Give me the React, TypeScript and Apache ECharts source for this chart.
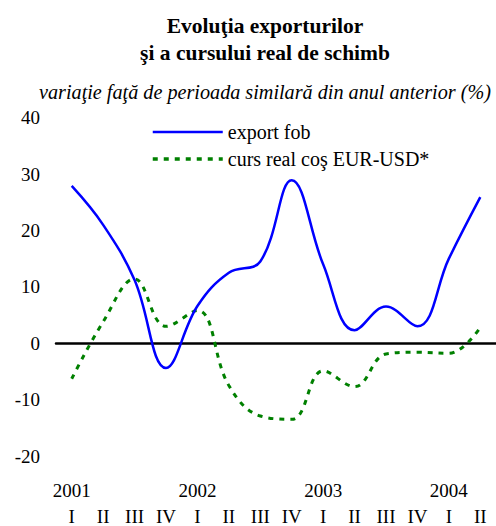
import React, { useEffect, useRef } from "react";
import * as echarts from "echarts";

const years = ["2001", "2002", "2003", "2004"];
const quarterLabels = ["I", "II", "III", "IV", "I", "II", "III", "IV", "I", "II", "III", "IV", "I", "II"];
const exportFob = [27.9, 21.0, 11.2, -4.4, 6.6, 12.5, 14.5, 28.9, 14.0, 2.3, 6.5, 3.0, 15.0, 25.9];
const cursReal = [-6.3, 3.8, 11.4, 3.0, 5.8, -7.5, -12.9, -13.5, -4.9, -7.7, -1.9, -1.6, -1.8, 2.8];
const yTicks = { min: -20, max: 40, interval: 10 };

const titleLines = ["Evoluţia exporturilor", "şi a cursului real de schimb"];
const subtitle = "variaţie faţă de perioada similară din anul anterior (%)";
const seriesNames = ["export fob", "curs real coş EUR-USD*"];

const FONT = "Liberation Serif";

export default function App() {
  const ref = useRef<HTMLDivElement>(null);
  useEffect(() => {
    if (!ref.current) return;
    const chart = echarts.init(ref.current, null, { renderer: "svg" });
    const categories = quarterLabels.map((q, i) => `${years[Math.floor(i / 4)]} ${q}`);
    const txt = (x: number, y: number, text: string, size: number, weight: string, style: string) => ({
      type: "text",
      x,
      y,
      style: {
        text,
        fontFamily: FONT,
        fontSize: size,
        fontWeight: weight,
        fontStyle: style,
        fill: "#000",
        align: "center",
        verticalAlign: "middle",
      },
    });
    chart.setOption({
      animation: false,
      backgroundColor: "#ffffff",
      textStyle: { fontFamily: FONT },
      graphic: [
        txt(265, 26, titleLines[0], 21.5, "bold", "normal"),
        txt(265, 53, titleLines[1], 21.5, "bold", "normal"),
        txt(265, 92, subtitle, 20.2, "normal", "italic"),
      ],
      legend: {
        orient: "vertical",
        left: 146,
        top: 117,
        itemWidth: 70,
        itemHeight: 14,
        itemGap: 7,
        itemStyle: { opacity: 0 },
        textStyle: { fontFamily: FONT, fontSize: 20, color: "#000", lineHeight: 20 },
        data: [
          { name: seriesNames[0], lineStyle: { width: 2.5 } },
          { name: seriesNames[1], lineStyle: { width: 3.5 } },
        ],
      },
      grid: { left: 56, right: -5, top: 117.7, bottom: 68.4, containLabel: false },
      xAxis: [
        {
          type: "category",
          data: categories,
          boundaryGap: true,
          axisLine: { onZero: true, lineStyle: { color: "#000", width: 2.5 } },
          axisTick: { show: false },
          axisLabel: { show: false },
          splitLine: { show: false },
        },
        {
          type: "category",
          data: categories,
          position: "bottom",
          boundaryGap: true,
          axisLine: { show: false, onZero: false },
          axisTick: { show: false },
          axisLabel: {
            interval: 0,
            margin: 50,
            fontFamily: FONT,
            fontSize: 19,
            lineHeight: 20,
            color: "#000",
            formatter: (_v: string, i: number) => quarterLabels[i],
          },
        },
        {
          type: "category",
          data: categories,
          position: "bottom",
          boundaryGap: true,
          axisLine: { show: false, onZero: false },
          axisTick: { show: false },
          axisLabel: {
            interval: 0,
            margin: 24,
            fontFamily: FONT,
            fontSize: 19,
            lineHeight: 20,
            color: "#000",
            formatter: (_v: string, i: number) => (i % 4 === 0 ? years[i / 4] : ""),
          },
        },
      ],
      yAxis: {
        type: "value",
        min: yTicks.min,
        max: yTicks.max,
        interval: yTicks.interval,
        axisLine: { show: false },
        axisTick: { show: false },
        splitLine: { show: false },
        axisLabel: { margin: 16, fontFamily: FONT, fontSize: 19, color: "#000" },
      },
      series: [
        {
          name: seriesNames[0],
          type: "line",
          data: exportFob,
          smooth: 0.4,
          symbol: "none",
          lineStyle: { color: "#0000ff", width: 2.5 },
          itemStyle: { color: "#0000ff" },
          z: 3,
        },
        {
          name: seriesNames[1],
          type: "line",
          data: cursReal,
          smooth: 0.4,
          symbol: "none",
          lineStyle: { color: "#008000", width: 3, type: [5, 6] },
          itemStyle: { color: "#008000" },
          z: 2,
        },
      ],
    });
    return () => chart.dispose();
  }, []);
  return (
    <div
      ref={ref}
      style={{ position: "fixed", left: 0, top: 0, width: 496, height: 526 }}
    />
  );
}
